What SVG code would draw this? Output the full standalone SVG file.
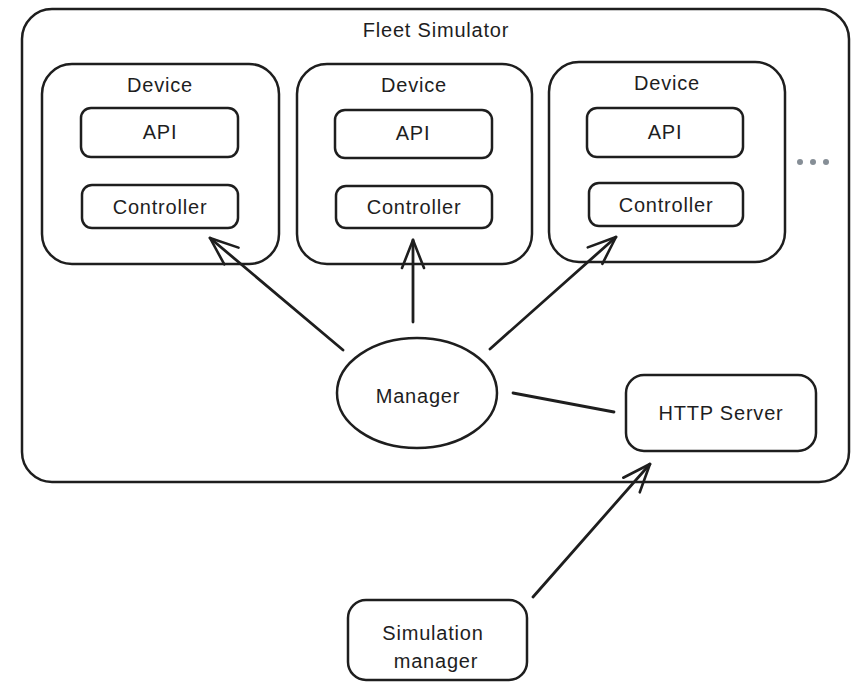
<svg xmlns="http://www.w3.org/2000/svg" width="862" height="695" viewBox="0 0 862 695">
  <style>
    .box { fill: none; stroke: #1e1e1e; stroke-width: 2.5; }
    .line { fill: none; stroke: #1e1e1e; stroke-width: 2.8; stroke-linecap: round; }
    .t { font-family: "Liberation Sans", "DejaVu Sans", sans-serif; font-size: 20px; fill: #1e1e1e; text-anchor: middle; letter-spacing: 0.8px; }
    .dot { fill: #868e96; }
  </style>
  <defs>
    <marker id="arrow" markerUnits="userSpaceOnUse" viewBox="0 0 32 26" markerWidth="32" markerHeight="26" refX="30" refY="13" orient="auto">
      <path d="M2,2 L30,13 L2,24" fill="none" stroke="#1e1e1e" stroke-width="2.6" stroke-linecap="round" stroke-linejoin="round"/>
    </marker>
  </defs>
  <rect width="862" height="695" fill="#ffffff"/>

  <g id="fleet-simulator">
    <rect class="box" x="22" y="9" width="827" height="473" rx="30"/>
    <text class="t" x="436" y="37">Fleet Simulator</text>
  </g>

  <g id="device-1">
    <rect class="box" x="42" y="64" width="237" height="200" rx="30"/>
    <text class="t" x="160" y="92">Device</text>
  </g>
  <g id="api-1">
    <rect class="box" x="81" y="108" width="157" height="49" rx="10"/>
    <text class="t" x="160" y="139">API</text>
  </g>
  <g id="controller-1">
    <rect class="box" x="82" y="185" width="156" height="43" rx="10"/>
    <text class="t" x="160" y="214">Controller</text>
  </g>

  <g id="device-2">
    <rect class="box" x="297" y="64" width="235" height="200" rx="30"/>
    <text class="t" x="414" y="92">Device</text>
  </g>
  <g id="api-2">
    <rect class="box" x="335" y="110" width="157" height="48" rx="10"/>
    <text class="t" x="413" y="140">API</text>
  </g>
  <g id="controller-2">
    <rect class="box" x="336" y="186" width="156" height="42" rx="10"/>
    <text class="t" x="414" y="214">Controller</text>
  </g>

  <g id="device-3">
    <rect class="box" x="549" y="62" width="236" height="200" rx="30"/>
    <text class="t" x="667" y="90">Device</text>
  </g>
  <g id="api-3">
    <rect class="box" x="587" y="108" width="156" height="49" rx="10"/>
    <text class="t" x="665" y="139">API</text>
  </g>
  <g id="controller-3">
    <rect class="box" x="589" y="183" width="154" height="43" rx="10"/>
    <text class="t" x="666" y="212">Controller</text>
  </g>

  <g id="more-devices">
    <circle class="dot" cx="800" cy="162" r="3"/>
    <circle class="dot" cx="813" cy="162" r="3"/>
    <circle class="dot" cx="826" cy="162" r="3"/>
  </g>

  <g id="manager">
    <ellipse class="box" cx="417" cy="393" rx="80" ry="55"/>
    <text class="t" x="418" y="403">Manager</text>
  </g>

  <g id="http-server">
    <rect class="box" x="626" y="375" width="190" height="76" rx="18"/>
    <text class="t" x="721" y="420">HTTP Server</text>
  </g>

  <g id="simulation-manager">
    <rect class="box" x="348" y="600" width="179" height="80" rx="18"/>
    <text class="t" x="433" y="640">Simulation</text>
    <text class="t" x="436" y="668">manager</text>
  </g>

  <g id="connectors">
    <line class="line" x1="343" y1="350" x2="210" y2="238" marker-end="url(#arrow)"/>
    <line class="line" x1="413" y1="322" x2="413" y2="240" marker-end="url(#arrow)"/>
    <line class="line" x1="490" y1="349" x2="616" y2="237" marker-end="url(#arrow)"/>
    <line class="line" x1="513" y1="393" x2="614" y2="412"/>
    <line class="line" x1="533" y1="597" x2="650" y2="464" marker-end="url(#arrow)"/>
  </g>
</svg>
